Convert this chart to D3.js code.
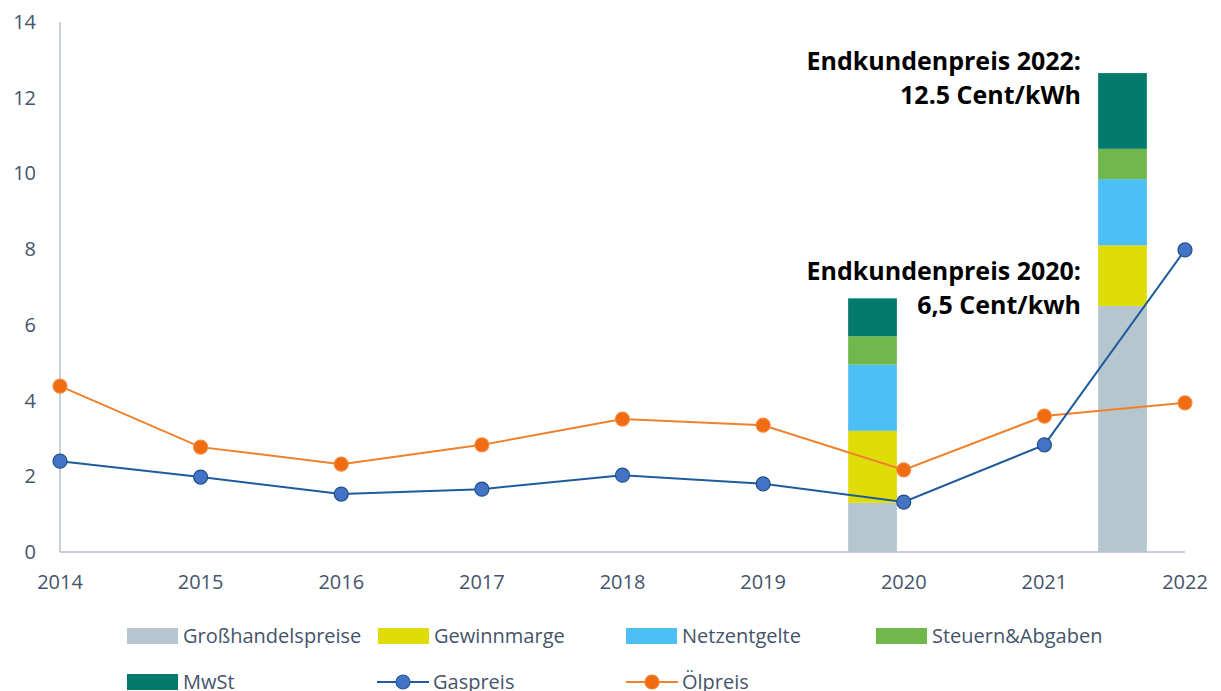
<!DOCTYPE html>
<html>
<head>
<meta charset="utf-8">
<script src="https://cdn.jsdelivr.net/npm/d3@7"></script>
<style>
  body { margin: 0; background: #fff; }
  svg text { font-family: "Open Sans", Lato, sans-serif; }
</style>
</head>
<body>
<svg id="chart" width="1221" height="691"></svg>
<script>
var years = ["2014", "2015", "2016", "2017", "2018", "2019", "2020", "2021", "2022"];
var yTicks = [0, 2, 4, 6, 8, 10, 12, 14];

// stacked bar parts, only for 2020 and 2022
var barYears = ["2020", "2022"];
var barKeys = ["Großhandelspreise", "Gewinnmarge", "Netzentgelte", "Steuern&Abgaben", "MwSt"];
var grosshandel = [1.3, 6.5];
var gewinnmarge = [1.9, 1.6];
var netzentgelte = [1.75, 1.75];
var steuern = [0.75, 0.8];
var mwst = [1.0, 2.0];

var gaspreis = [2.4, 1.98, 1.53, 1.66, 2.03, 1.8, 1.32, 2.83, 7.98];
var oelpreis = [4.38, 2.77, 2.32, 2.83, 3.51, 3.35, 2.17, 3.59, 3.94];

var barColors = ["#b6c6ce", "#e0dc0a", "#4dbff5", "#70b74c", "#037a6b"];

var svg = d3.select("#chart");
var plotLeft = 60, plotRight = 1185, plotTop = 22, plotBottom = 552;

var xPoint = d3.scalePoint().domain(years).range([plotLeft, plotRight]);
var xBand = d3.scaleBand().domain(years).range([plotLeft, plotRight]).paddingInner(0.61).paddingOuter(0.305);
var y = d3.scaleLinear().domain([0, 14]).range([plotBottom, plotTop]);

// y labels
svg.append("g").selectAll("text")
    .data(yTicks)
    .enter().append("text")
    .attr("x", 36)
    .attr("y", function(d) { return y(d); })
    .attr("dy", "0.35em")
    .attr("text-anchor", "end")
    .style("font-size", "20px")
    .style("fill", "#44546a")
    .text(function(d) { return d; });

// x labels
svg.append("g").selectAll("text")
    .data(years)
    .enter().append("text")
    .attr("x", function(d) { return xPoint(d); })
    .attr("y", 582)
    .attr("dy", "0.35em")
    .attr("text-anchor", "middle")
    .style("font-size", "20px")
    .style("fill", "#44546a")
    .text(function(d) { return d; });

// stacked bars
var rows = barYears.map(function(yr, i) {
    return {year: yr, "Großhandelspreise": grosshandel[i], "Gewinnmarge": gewinnmarge[i],
            "Netzentgelte": netzentgelte[i], "Steuern&Abgaben": steuern[i], "MwSt": mwst[i]};
});
var stack = d3.stack().keys(barKeys)(rows);

svg.append("g").selectAll("g")
    .data(stack)
    .enter().append("g")
    .attr("fill", function(d, i) { return barColors[i]; })
    .selectAll("rect")
    .data(function(d) { return d; })
    .enter().append("rect")
    .attr("x", function(d) { return xBand(d.data.year); })
    .attr("width", xBand.bandwidth())
    .attr("y", function(d) { return y(d[1]); })
    .attr("height", function(d) { return y(d[0]) - y(d[1]); });

// axes lines
svg.append("line")
    .attr("x1", plotLeft).attr("x2", plotLeft).attr("y1", plotTop).attr("y2", plotBottom)
    .style("stroke", "#b4bfd2").style("stroke-width", 1.5);
svg.append("line")
    .attr("x1", plotLeft).attr("x2", plotRight).attr("y1", plotBottom).attr("y2", plotBottom)
    .style("stroke", "#b4bfd2").style("stroke-width", 1.5);

// lines
function drawLine(values, lineColor, fill, stroke) {
    var line = d3.line()
        .x(function(d, i) { return xPoint(years[i]); })
        .y(function(d) { return y(d); });
    svg.append("path")
        .datum(values)
        .attr("d", line)
        .style("fill", "none")
        .style("stroke", lineColor)
        .style("stroke-width", 2);
    svg.append("g").selectAll("circle")
        .data(values)
        .enter().append("circle")
        .attr("cx", function(d, i) { return xPoint(years[i]); })
        .attr("cy", function(d) { return y(d); })
        .attr("r", 7)
        .style("fill", fill)
        .style("stroke", stroke)
        .style("stroke-width", 1.2);
}
drawLine(oelpreis, "#f0802a", "#f06b12", "#f28a3c");
drawLine(gaspreis, "#1e5b9c", "#4472c4", "#1d4f8a");

// annotations
var notes = [
    {lines: ["Endkundenpreis 2022:", "12.5 Cent/kWh"], y: 61},
    {lines: ["Endkundenpreis 2020:", "6,5 Cent/kwh"], y: 271}
];
notes.forEach(function(n) {
    n.lines.forEach(function(t, i) {
        svg.append("text")
            .attr("x", 1081)
            .attr("y", n.y + i * 34)
            .attr("dy", "0.35em")
            .attr("text-anchor", "end")
            .style("font-size", "25px")
            .style("font-weight", "bold")
            .style("fill", "#000")
            .text(t);
    });
});

// legend
var legendItems = [
    {name: "Großhandelspreise", type: "rect", color: barColors[0], x: 127, y: 636},
    {name: "Gewinnmarge", type: "rect", color: barColors[1], x: 378, y: 636},
    {name: "Netzentgelte", type: "rect", color: barColors[2], x: 626, y: 636},
    {name: "Steuern&Abgaben", type: "rect", color: barColors[3], x: 876, y: 636},
    {name: "MwSt", type: "rect", color: barColors[4], x: 127, y: 682},
    {name: "Gaspreis", type: "line", color: "#1e5b9c", fill: "#4472c4", x: 377, y: 682},
    {name: "Ölpreis", type: "line", color: "#f0802a", fill: "#f06b12", x: 626, y: 682}
];
var lg = svg.append("g");
legendItems.forEach(function(d) {
    if (d.type == "rect") {
        lg.append("rect")
            .attr("x", d.x).attr("y", d.y - 8)
            .attr("width", 51).attr("height", 16)
            .style("fill", d.color);
    } else {
        lg.append("line")
            .attr("x1", d.x).attr("x2", d.x + 52)
            .attr("y1", d.y).attr("y2", d.y)
            .style("stroke", d.color).style("stroke-width", 2);
        lg.append("circle")
            .attr("cx", d.x + 26).attr("cy", d.y).attr("r", 7)
            .style("fill", d.fill).style("stroke", d.color).style("stroke-width", 1.2);
    }
    lg.append("text")
        .attr("x", d.x + 56)
        .attr("y", d.y)
        .attr("dy", "0.35em")
        .style("font-size", "20px")
        .style("fill", "#44546a")
        .text(d.name);
});
</script>
</body>
</html>
